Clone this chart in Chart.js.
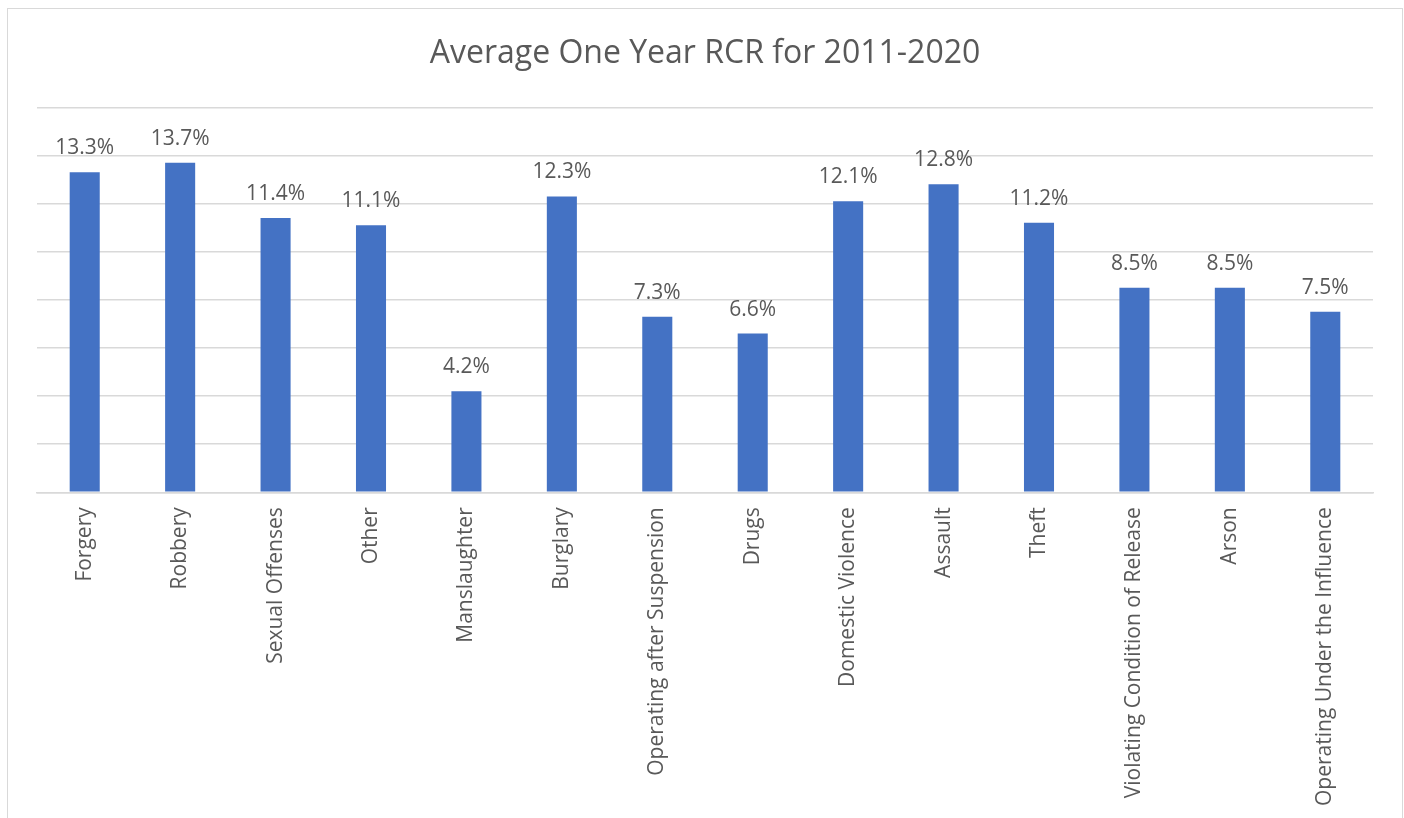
<!DOCTYPE html>
<html lang="en">
    <head>
        <title> Average One Year RCR </title>
        <script src="https://cdn.jsdelivr.net/npm/chart.js@4.4.0/dist/chart.umd.min.js"></script>
        <style>
            html, body { margin: 0; padding: 0; background: #ffffff; overflow: hidden; }
            #wrap { position: relative; width: 1404px; height: 818px; overflow: hidden; }
            #frame {
                position: absolute; left: 7px; top: 8px; width: 1394px; height: 830px;
                border: 1.5px solid #d9d9d9; pointer-events: none;
            }
        </style>
    </head>

    <body>
        <div id="wrap">
            <canvas id="myChart" width="1404" height="834"></canvas>
            <div id="frame"></div>
        </div>

        <script>

            const Categorias = [
                'Forgery', 'Robbery', 'Sexual Offenses', 'Other', 'Manslaughter', 'Burglary',
                'Operating after Suspension', 'Drugs', 'Domestic Violence', 'Assault', 'Theft',
                'Violating Condition of Release', 'Arson', 'Operating Under the Influence'
            ];
            const Valores = [13.3, 13.7, 11.4, 11.1, 4.2, 12.3, 7.3, 6.6, 12.1, 12.8, 11.2, 8.5, 8.5, 7.5];
            const Titulo = 'Average One Year RCR for 2011-2020';

            const fonte = "'Open Sans', 'Noto Sans', sans-serif";
            const cinza = '#595959';

            // rotulos de valor acima das barras
            const rotulos = {
                id: 'rotulos',
                afterDatasetsDraw (chart) {
                    const ctx = chart.ctx;
                    const meta = chart.getDatasetMeta(0);
                    ctx.save();
                    ctx.font = '21px ' + fonte;
                    ctx.fillStyle = cinza;
                    ctx.textAlign = 'center';
                    ctx.textBaseline = 'alphabetic';
                    meta.data.forEach((barra, i) => {
                        ctx.fillText(Valores[i].toFixed(1) + '%', barra.x, barra.y - 18);
                    });
                    ctx.restore();
                }
            };

            const ctx = document.getElementById('myChart').getContext('2d');
            const myChart = new Chart(ctx, {
                type: 'bar',
                data: {
                    labels: Categorias,
                    datasets: [{
                        data: Valores,
                        backgroundColor: '#4472c4',
                        categoryPercentage: 1,
                        barPercentage: 0.315
                    }]
                },
                plugins: [rotulos],
                options: {
                    responsive: false,
                    animation: false,
                    layout: { padding: { left: 37, right: 31, top: 0, bottom: 13 } },
                    plugins: {
                        legend: { display: false },
                        tooltip: { enabled: false },
                        title: {
                            display: true,
                            text: Titulo,
                            color: cinza,
                            font: { family: fonte, size: 32, weight: 'normal' },
                            padding: { top: 35, bottom: 34 }
                        }
                    },
                    scales: {
                        x: {
                            grid: { display: false, drawTicks: false },
                            border: { display: true, color: '#d9d9d9', width: 1.5 },
                            ticks: {
                                color: cinza,
                                font: { family: fonte, size: 21 },
                                minRotation: 90,
                                maxRotation: 90,
                                autoSkip: false,
                                padding: 15
                            }
                        },
                        y: {
                            min: 0,
                            max: 16,
                            ticks: { display: false, stepSize: 2 },
                            border: { display: false },
                            grid: { color: '#d9d9d9', lineWidth: 1.5, drawTicks: false }
                        }
                    }
                }
            });

        </script>
    </body>
</html>
